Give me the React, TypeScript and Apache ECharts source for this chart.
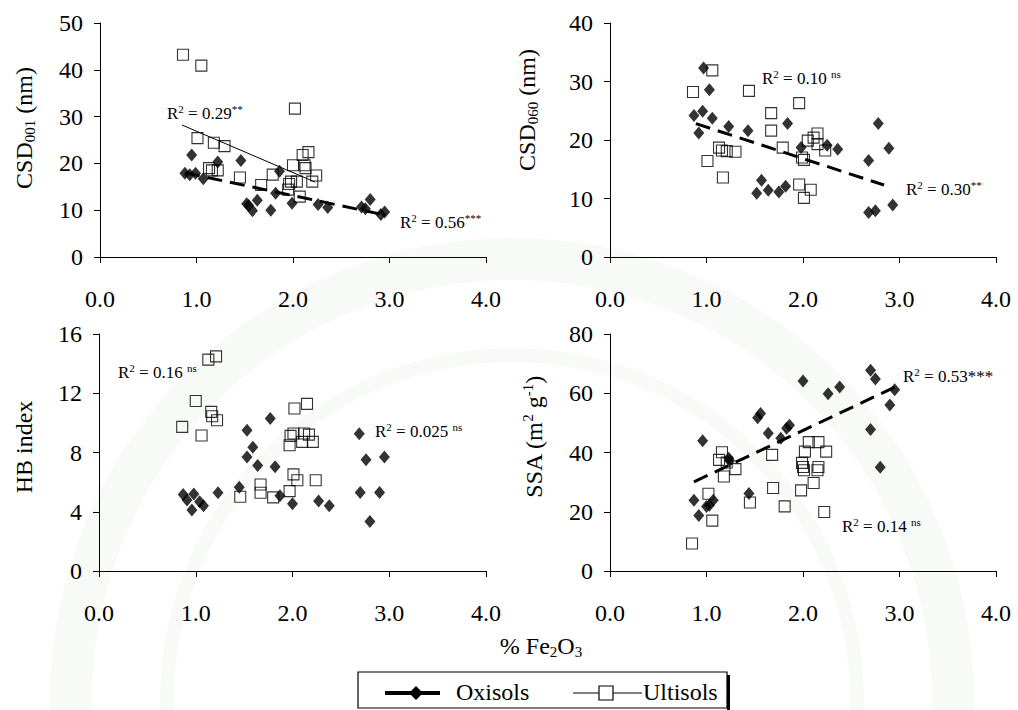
import { useEffect, useRef } from "react";
import * as echarts from "echarts";

const FONT = "Liberation Serif, Times New Roman, serif";

// % Fe2O3 against CSD001 (nm)
const csd001Oxisols = [
  [0.95, 21.8], [0.88, 17.9], [0.93, 17.6], [0.99, 17.9], [1.07, 16.7], [1.22, 20.3],
  [1.46, 20.6], [1.52, 11.4], [1.54, 11.0], [1.58, 9.9], [1.63, 12.1], [1.77, 10.0],
  [1.82, 13.6], [1.86, 18.3], [1.99, 11.5], [2.26, 11.2], [2.36, 10.6], [2.71, 10.7],
  [2.75, 10.3], [2.8, 12.3], [2.91, 9.1], [2.95, 9.6],
];
const csd001Ultisols = [
  [0.86, 43.2], [1.05, 40.9], [2.02, 31.7], [1.01, 25.4], [1.18, 24.4], [1.29, 23.7],
  [1.13, 19.0], [1.16, 18.5], [1.22, 18.5], [1.45, 17.0], [1.67, 15.4], [1.79, 17.6],
  [2.0, 19.6], [1.98, 16.1], [1.96, 15.6], [2.04, 16.1], [2.07, 12.9], [2.1, 21.8],
  [2.16, 22.4], [2.13, 19.0], [2.12, 19.6], [2.24, 17.4], [2.2, 16.1], [1.95, 14.4],
];
const csd001OxisolsFit = [[0.88, 18.0], [2.97, 8.9]];
const csd001UltisolsFit = [[0.85, 28.2], [2.23, 16.0]];

// % Fe2O3 against CSD060 (nm)
const csd060Oxisols = [
  [0.97, 32.3], [1.03, 28.6], [0.87, 24.2], [0.96, 24.9], [0.92, 21.2], [1.06, 23.7],
  [1.23, 22.3], [1.43, 21.6], [1.84, 22.8], [1.57, 13.1], [1.52, 10.9], [1.64, 11.4],
  [1.75, 11.1], [1.82, 12.1], [1.98, 18.7], [2.25, 19.1], [2.36, 18.4], [2.68, 16.5],
  [2.78, 22.8], [2.89, 18.6], [2.68, 7.6], [2.75, 7.9], [2.93, 8.9],
];
const csd060Ultisols = [
  [0.86, 28.2], [1.06, 31.9], [1.44, 28.4], [1.96, 26.3], [1.67, 24.6], [1.67, 21.6],
  [1.01, 16.4], [1.13, 18.7], [1.16, 18.2], [1.21, 18.1], [1.3, 18.0], [1.17, 13.6],
  [1.79, 18.7], [1.99, 17.0], [2.01, 16.6], [1.96, 12.4], [2.01, 10.1], [2.08, 11.5],
  [2.05, 19.9], [2.11, 20.4], [2.15, 21.1], [2.15, 19.3], [2.23, 18.2],
];
const csd060OxisolsFit = [[0.89, 22.8], [2.84, 12.3]];

// % Fe2O3 against HB index
const hbOxisols = [
  [0.87, 5.17], [0.91, 4.79], [0.98, 5.19], [0.96, 4.11], [1.04, 4.67], [1.08, 4.4],
  [1.23, 5.28], [1.45, 5.66], [1.53, 9.51], [1.53, 7.69], [1.59, 8.36], [1.64, 7.12],
  [1.77, 10.29], [1.82, 7.03], [1.87, 5.08], [2.0, 4.54], [2.27, 4.72], [2.38, 4.4],
  [2.69, 9.26], [2.76, 7.51], [2.7, 5.3], [2.8, 3.35], [2.9, 5.3], [2.95, 7.69],
];
const hbUltisols = [
  [0.86, 9.73], [1.0, 11.48], [1.06, 9.15], [1.13, 14.27], [1.21, 14.49], [1.16, 10.74],
  [1.17, 10.45], [1.22, 10.18], [1.46, 5.01], [1.67, 5.84], [1.67, 5.28], [1.8, 4.97],
  [1.97, 5.39], [2.01, 6.52], [2.05, 6.13], [2.24, 6.13], [2.02, 10.97], [2.15, 11.28],
  [1.98, 9.12], [1.97, 8.49], [2.01, 9.28], [2.1, 8.72], [2.12, 9.28], [2.17, 9.21],
  [2.21, 8.72],
];

// % Fe2O3 against SSA (m2 g-1)
const ssaOxisols = [
  [0.87, 23.9], [0.92, 18.7], [0.96, 44.0], [1.0, 21.8], [1.03, 22.2], [1.07, 23.9],
  [1.23, 38.1], [1.24, 37.2], [1.44, 26.2], [1.53, 51.7], [1.56, 53.2], [1.64, 46.5],
  [1.77, 44.8], [1.86, 49.2], [1.83, 48.2], [2.0, 64.1], [2.26, 59.8], [2.38, 62.1],
  [2.7, 67.8], [2.75, 64.8], [2.7, 47.8], [2.9, 56.0], [2.95, 61.2], [2.8, 35.0],
];
const ssaUltisols = [
  [0.85, 9.3], [1.02, 26.1], [1.06, 17.0], [1.16, 40.1], [1.13, 37.5], [1.21, 36.6],
  [1.18, 31.9], [1.3, 34.4], [1.45, 23.1], [1.68, 39.2], [1.69, 28.0], [1.81, 21.8],
  [1.98, 27.2], [1.99, 36.5], [2.0, 35.1], [2.01, 34.0], [2.02, 40.3], [2.06, 43.5],
  [2.16, 43.5], [2.24, 40.3], [2.11, 29.7], [2.15, 34.0], [2.16, 35.1], [2.22, 19.9],
];
const ssaOxisolsFit = [[0.87, 30.1], [2.98, 62.5]];

const xTicks = { min: 0, max: 4, interval: 1 };
const yScales = [
  { max: 50, interval: 10 },
  { max: 40, interval: 10 },
  { max: 16, interval: 4 },
  { max: 80, interval: 20 },
];

const grids = [
  { left: 100, top: 23, width: 386, height: 234 },
  { left: 610, top: 23, width: 386, height: 234 },
  { left: 99, top: 334, width: 387, height: 237 },
  { left: 610, top: 334, width: 386, height: 237 },
];

const panels = [
  { oxi: csd001Oxisols, ult: csd001Ultisols, oxiFit: csd001OxisolsFit, ultFit: csd001UltisolsFit },
  { oxi: csd060Oxisols, ult: csd060Ultisols, oxiFit: csd060OxisolsFit, ultFit: null },
  { oxi: hbOxisols, ult: hbUltisols, oxiFit: null, ultFit: null },
  { oxi: ssaOxisols, ult: ssaUltisols, oxiFit: ssaOxisolsFit, ultFit: null },
];

// rich-text token; lowered/raised pieces come from aligning to the line's bottom/top
const tok = (size: number, lh: number, align: string) => ({
  fontSize: size,
  fontFamily: FONT,
  lineHeight: lh,
  verticalAlign: align,
  fill: "#000",
  color: "#000",
});

// R-squared annotation; the significance mark is raised unless stated otherwise
const r2Label = (x: number, y: number, value: string, mark: string, raised = true) => ({
  type: "text",
  x,
  y,
  z: 60,
  silent: true,
  style: {
    text: `{m|R}{s|2}{m| = ${value}}` + (raised ? `{s|${mark}}` : `{m|${mark}}`),
    rich: { m: tok(17, 20, "middle"), s: tok(11, 20, "top") },
    align: "left",
    verticalAlign: "middle",
  },
});

const titleRich = { m: tok(24, 27, "middle"), b: tok(15, 27, "bottom"), p: tok(15, 27, "top") };

// vertical axis title, reading bottom to top
const yTitle = (x: number, y: number, text: string) => ({
  type: "text",
  x,
  y,
  rotation: Math.PI / 2,
  z: 60,
  silent: true,
  style: { text, rich: titleRich, align: "center", verticalAlign: "middle" },
});

const plainText = (x: number, y: number, text: string, align = "left") => ({
  type: "text",
  x,
  y,
  z: 62,
  silent: true,
  style: { text, rich: titleRich, align, verticalAlign: "middle" },
});

const tickRich = { t: { fontSize: 24, fontFamily: FONT, color: "#000" } };

export default function App() {
  const ref = useRef<HTMLDivElement>(null);

  useEffect(() => {
    document.body.style.margin = "0";
    if (!ref.current) return;
    const chart = echarts.init(ref.current, null, { renderer: "svg" });

    const xAxis = grids.map((_, i) => ({
      type: "value",
      gridIndex: i,
      ...xTicks,
      axisLine: { show: true, onZero: false, lineStyle: { color: "#000", width: 1 } },
      axisTick: { show: true, length: 6, lineStyle: { color: "#000", width: 1 } },
      axisLabel: {
        margin: 30,
        formatter: (v: number) => `{t|${v.toFixed(1)}}`,
        rich: tickRich,
      },
      splitLine: { show: false },
    }));

    const yAxis = grids.map((_, i) => ({
      type: "value",
      gridIndex: i,
      min: 0,
      max: yScales[i].max,
      interval: yScales[i].interval,
      axisLine: { show: true, onZero: false, lineStyle: { color: "#000", width: 1 } },
      axisTick: { show: true, length: 6, lineStyle: { color: "#000", width: 1 } },
      axisLabel: { margin: 17, formatter: (v: number) => `{t|${v}}`, rich: tickRich },
      splitLine: { show: false },
    }));

    const series: any[] = [];
    panels.forEach((p, i) => {
      if (p.ultFit) {
        series.push({
          type: "line",
          name: "Ultisols trend",
          xAxisIndex: i,
          yAxisIndex: i,
          data: p.ultFit,
          symbol: "none",
          lineStyle: { color: "#000", width: 1 },
          z: 3,
        });
      }
      if (p.oxiFit) {
        series.push({
          type: "line",
          name: "Oxisols trend",
          xAxisIndex: i,
          yAxisIndex: i,
          data: p.oxiFit,
          symbol: "none",
          lineStyle: { color: "#000", width: 3, type: [15, 8] },
          z: 3,
        });
      }
      series.push({
        type: "scatter",
        name: "Ultisols",
        xAxisIndex: i,
        yAxisIndex: i,
        data: p.ult,
        symbol: "rect",
        symbolSize: 11,
        itemStyle: { color: "rgba(255,255,255,0)", borderColor: "#000", borderWidth: 1.1 },
        z: 4,
      });
      series.push({
        type: "scatter",
        name: "Oxisols",
        xAxisIndex: i,
        yAxisIndex: i,
        data: p.oxi,
        symbol: "diamond",
        symbolSize: [11, 13],
        itemStyle: { color: "#000" },
        z: 5,
      });
    });

    const graphic: any[] = [
      // faint seal in the page background
      {
        type: "ring",
        z: -10,
        silent: true,
        shape: { cx: 512, cy: 700, r: 462, r0: 420 },
        style: { fill: "rgba(150,185,150,0.07)" },
      },
      {
        type: "ring",
        z: -10,
        silent: true,
        shape: { cx: 512, cy: 700, r: 352, r0: 338 },
        style: { fill: "rgba(150,185,150,0.07)" },
      },
      yTitle(24, 128, "{m|CSD}{b|001}{m| (nm)}"),
      yTitle(527, 110, "{m|CSD}{b|060}{m| (nm)}"),
      yTitle(24, 447, "{m|HB index}"),
      yTitle(534, 437, "{m|SSA (m}{p|2}{m| g}{p|-1}{m|)}"),
      r2Label(167, 113, "0.29", "**"),
      r2Label(400, 222, "0.56", "***"),
      r2Label(762, 78, "0.10 ", "ns"),
      r2Label(906, 189, "0.30", "**"),
      r2Label(118, 372, "0.16 ", "ns"),
      r2Label(375, 431, "0.025 ", "ns"),
      r2Label(903, 376, "0.53", "***", false),
      r2Label(842, 526, "0.14 ", "ns"),
      plainText(541, 646, "{m|% Fe}{b|2}{m|O}{b|3}", "center"),
      // legend
      {
        type: "rect",
        z: 60,
        silent: true,
        shape: { x: 358, y: 672, width: 369, height: 36 },
        style: { fill: "none", stroke: "#000", lineWidth: 1.2 },
      },
      {
        type: "rect",
        z: 60,
        silent: true,
        shape: { x: 727, y: 675, width: 3, height: 40 },
        style: { fill: "#000" },
      },
      {
        type: "line",
        z: 61,
        silent: true,
        shape: { x1: 385, y1: 693, x2: 440, y2: 693 },
        style: { stroke: "#000", lineWidth: 4 },
      },
      {
        type: "polygon",
        z: 62,
        silent: true,
        shape: { points: [[416, 686], [423, 693], [416, 700], [409, 693]] },
        style: { fill: "#000" },
      },
      plainText(456, 692, "{m|Oxisols}"),
      {
        type: "line",
        z: 61,
        silent: true,
        shape: { x1: 573, y1: 693, x2: 642, y2: 693 },
        style: { stroke: "#000", lineWidth: 1 },
      },
      {
        type: "rect",
        z: 62,
        silent: true,
        shape: { x: 599, y: 686, width: 14, height: 14 },
        style: { fill: "#fff", stroke: "#000", lineWidth: 1.2 },
      },
      plainText(643, 692, "{m|Ultisols}"),
    ];

    chart.setOption({
      animation: false,
      backgroundColor: "#fff",
      textStyle: { fontFamily: FONT },
      grid: grids,
      xAxis,
      yAxis,
      series,
      graphic,
    });

    return () => chart.dispose();
  }, []);

  return <div ref={ref} style={{ width: 1018, height: 710 }} />;
}
